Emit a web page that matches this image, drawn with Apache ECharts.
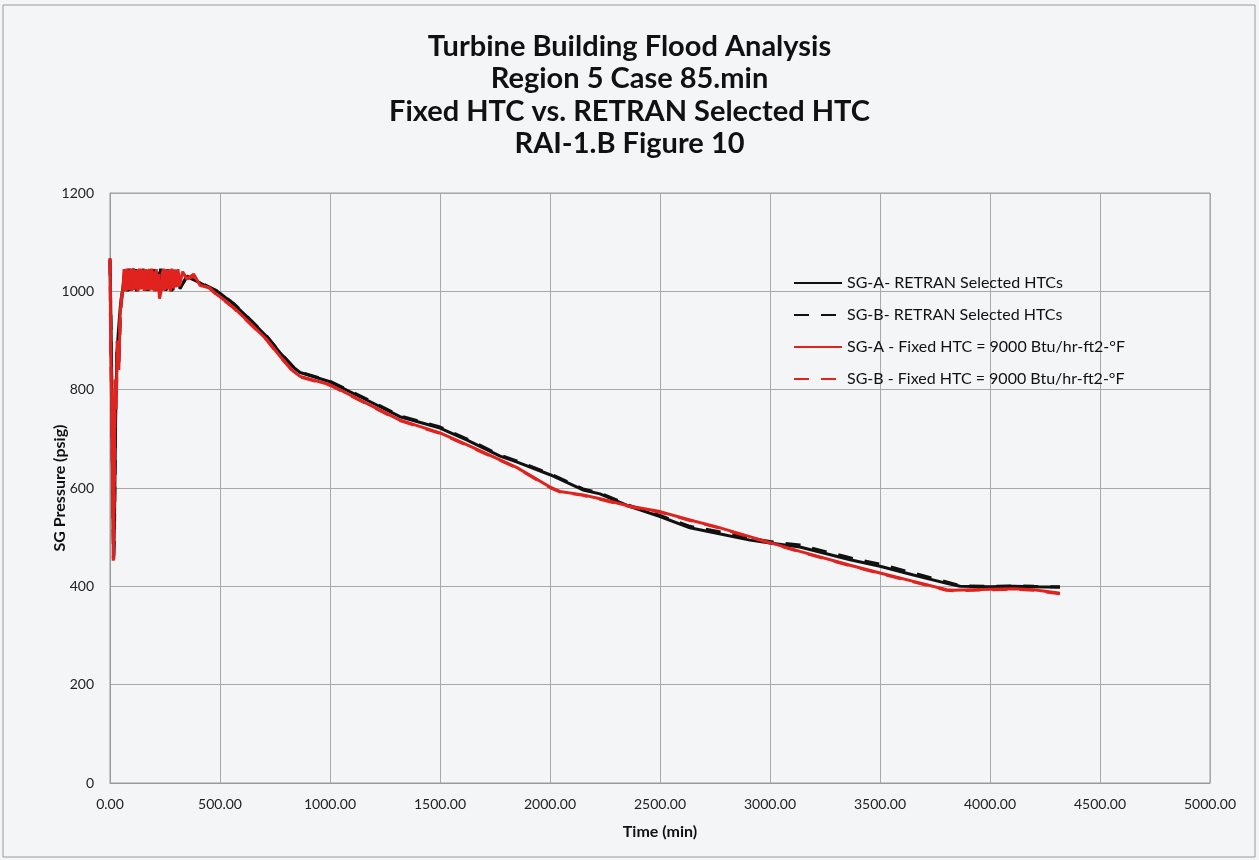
<!DOCTYPE html>
<html>
<head>
<meta charset="utf-8">
<script src="https://cdn.jsdelivr.net/npm/echarts@6/dist/echarts.min.js"></script>
<style>
html,body{margin:0;padding:0;background:#f4f5f7;}
#c{width:1259px;height:860px;}
</style>
</head>
<body>
<div id="c"></div>
<script>
const titleLines = ["Turbine Building Flood Analysis","Region 5 Case 85.min","Fixed HTC vs. RETRAN Selected HTC","RAI-1.B Figure 10"];
const seriesNames = ["SG-A- RETRAN Selected HTCs","SG-B- RETRAN Selected HTCs","SG-A - Fixed HTC = 9000 Btu/hr-ft2-\u00B0F","SG-B - Fixed HTC = 9000 Btu/hr-ft2-\u00B0F"];
const xTicks = [0,500,1000,1500,2000,2500,3000,3500,4000,4500,5000];
const yTicks = [0,200,400,600,800,1000,1200];

// SG-A RETRAN (black solid)
const timeA = [0,4,8,12,17,21,26,32,40,48,56,62,
  70,78,86,94,102,110,118,126,134,142,150,158,166,174,182,190,198,206,214,222,230,238,246,254,262,270,278,286,294,302,310,318,
  350,410,486,500,560,621,712,773,832,864,1000,1167,1318,1500,1621,1773,1848,2000,2150,2227,2364,2500,2636,2758,2909,3000,3136,3364,3500,3652,3803,3864,4000,4106,4200,4318];
const pressA = [1065,950,820,600,455,560,760,880,930,975,1000,1020,
  1044,1003,1046,1001,1042,1004,1045,1002,1043,1006,1046,1003,1041,1001,1044,1005,1045,1002,1040,1004,1046,1003,1043,1001,1045,1006,1040,1002,1044,1010,1038,1005,
  1030,1017,1000,996,975,949,908,875,846,835,816,779,745,722,698,665,653,627,596,588,562,542,519,508,494,488,480,454,441,423,406,400,399,400,399,398];

// SG-B RETRAN (black dashed)
const timeB = [0,4,8,12,17,21,26,32,40,48,56,62,
  70,80,90,100,110,120,130,140,150,160,170,180,190,200,210,220,230,240,250,260,270,280,290,300,310,320,
  350,410,486,500,560,621,712,773,832,864,1000,1167,1318,1500,1621,1773,1848,2000,2150,2227,2364,2500,2636,2758,2909,3000,3136,3364,3500,3652,3803,3864,4000,4106,4200,4318];
const pressB = [1062,940,800,620,460,540,780,900,850,960,995,1015,
  1040,1000,1045,1003,1041,1000,1044,1004,1042,1001,1045,1003,1040,1002,1046,1004,1041,1002,1044,1003,1043,1000,1046,1003,1035,1008,
  1031,1018,1001,997,976,950,909,876,847,836,817,781,747,724,700,667,655,629,598,590,564,544,522,512,498,491,484,458,445,427,409,401,400,401,400,399];

// SG-A Fixed HTC (red solid)
const timeC = [0,3,7,11,15,19,23,28,34,40,46,52,58,
  64,71,78,85,92,99,106,113,120,127,134,141,148,155,162,169,176,183,190,197,204,211,218,225,232,239,246,253,260,267,274,281,288,295,302,309,316,
  330,350,380,410,450,486,500,560,621,712,773,832,864,1000,1167,1318,1500,1621,1773,1848,2000,2045,2150,2227,2364,2500,2636,2758,3000,3136,3364,3500,3652,3803,3833,4000,4106,4200,4318];
const pressC = [1068,900,780,640,452,600,820,760,900,840,950,990,1000,
  1045,1000,1046,1003,1044,1001,1047,1004,1043,1000,1046,1005,1042,1001,1045,1003,1044,1002,1046,1004,1040,1000,1030,985,1000,1040,1003,1045,1005,1044,1000,1046,1006,1043,1010,1045,1012,
  1040,1025,1035,1012,1008,993,989,968,942,902,868,838,827,810,772,738,712,688,657,642,602,593,586,578,563,552,535,521,489,471,443,427,410,393,392,394,395,393,386];

// SG-B Fixed HTC (red dashed)
const timeD = [0,3,7,11,15,19,23,28,34,40,46,52,58,
  66,74,82,90,98,106,114,122,130,138,146,154,162,170,178,186,194,202,210,218,226,234,242,250,258,266,274,282,290,298,306,314,
  330,350,380,410,450,486,500,560,621,712,773,832,864,1000,1167,1318,1500,1621,1773,1848,2000,2045,2150,2227,2364,2500,2636,2758,3000,3136,3364,3500,3652,3803,3833,4000,4106,4200,4318];
const pressD = [1066,880,790,620,455,580,800,780,880,860,940,985,1002,
  1043,1002,1045,1001,1046,1003,1042,1000,1044,1004,1045,1002,1041,1003,1046,1001,1044,1000,1045,1004,1042,1001,1046,1003,1040,1005,1044,1002,1045,1008,1040,1010,
  1038,1026,1030,1013,1007,992,988,967,941,901,867,837,826,809,771,737,711,687,656,641,601,592,585,577,562,551,534,520,488,470,442,426,409,392,391,393,394,392,385];

function pairs(t, v){ return t.map((x,i)=>[x, v[i]]); }

const chart = echarts.init(document.getElementById('c'), null, {renderer:'canvas'});
const font = 'Lato, "Open Sans", sans-serif';
chart.setOption({
  backgroundColor:'#f4f5f7',
  animation:false,
  title:{
    text: titleLines.join('\n'),
    left:'center', top:25,
    textStyle:{fontFamily:font, fontWeight:'bold', fontSize:29, lineHeight:32.5, color:'#111'}
  },
  legend:{
    orient:'vertical', left:788, top:270,
    itemWidth:48, itemHeight:16, itemGap:16,
    itemStyle:{opacity:0, borderWidth:0},
    textStyle:{fontFamily:font, fontSize:16, color:'#111'},
    data: seriesNames
  },
  grid:{left:110, right:49, top:193, bottom:77, show:true, borderColor:'#9a9a9a', borderWidth:1, backgroundColor:'transparent'},
  xAxis:{
    type:'value', min:xTicks[0], max:xTicks[xTicks.length-1], interval:500,
    name:'Time (min)', nameLocation:'middle', nameGap:41, nameMoveOverlap:false,
    nameTextStyle:{fontFamily:font, fontWeight:'bold', fontSize:16, color:'#111'},
    axisLine:{lineStyle:{color:'#9a9a9a'}}, axisTick:{show:false},
    axisLabel:{fontFamily:font, fontSize:14, color:'#222', margin:14, formatter:v=>v.toFixed(2)},
    splitLine:{show:true, lineStyle:{color:'#a8a8a8', width:1}}
  },
  yAxis:{
    type:'value', min:yTicks[0], max:yTicks[yTicks.length-1], interval:200,
    name:'SG Pressure (psig)', nameLocation:'middle', nameGap:42, nameMoveOverlap:false,
    nameTextStyle:{fontFamily:font, fontWeight:'bold', fontSize:16, color:'#111'},
    axisLine:{show:true, lineStyle:{color:'#9a9a9a'}}, axisTick:{show:false},
    axisLabel:{fontFamily:font, fontSize:14, color:'#222', margin:16, formatter:v=>String(v)},
    splitLine:{show:true, lineStyle:{color:'#a8a8a8', width:1}}
  },
  graphic:[{type:'rect', shape:{x:3, y:5, width:1252, height:852}, style:{fill:'none', stroke:'#9a9a9a', lineWidth:1}, silent:true}],
  series:[
    {name:seriesNames[0], type:'line', data:pairs(timeA, pressA), symbol:'none', lineStyle:{color:'#111', width:3}, itemStyle:{color:'#111'}},
    {name:seriesNames[1], type:'line', data:pairs(timeB, pressB), symbol:'none', lineStyle:{color:'#111', width:3, type:[15,12]}, itemStyle:{color:'#111'}},
    {name:seriesNames[2], type:'line', data:pairs(timeC, pressC), symbol:'none', lineStyle:{color:'#e0231f', width:3}, itemStyle:{color:'#e0231f'}},
    {name:seriesNames[3], type:'line', data:pairs(timeD, pressD), symbol:'none', lineStyle:{color:'#e0231f', width:3, type:[15,12]}, itemStyle:{color:'#e0231f'}}
  ]
});
</script>
</body>
</html>
